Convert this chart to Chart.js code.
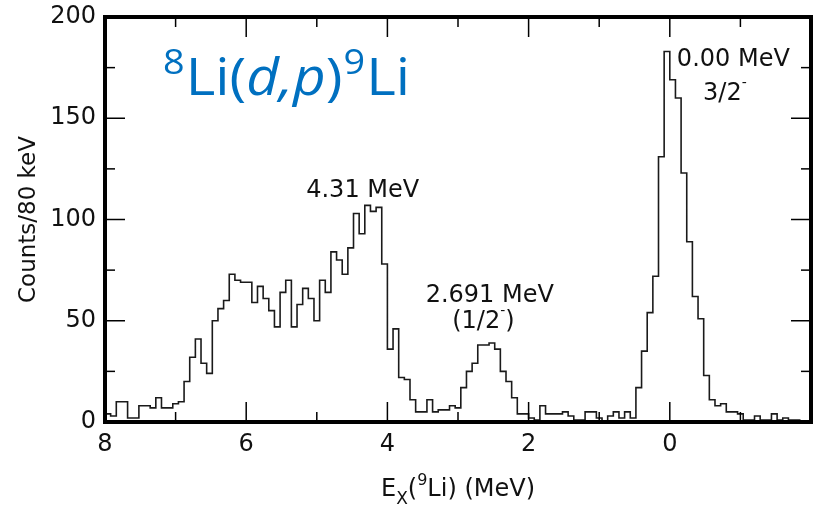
<!DOCTYPE html>
<html>
<head>
<meta charset="utf-8">
<script src="https://cdn.jsdelivr.net/npm/chart.js@4/dist/chart.umd.min.js"></script>
<style>
  html, body { margin: 0; padding: 0; background: #fff; }
  canvas { display: block; }
</style>
</head>
<body>
<canvas id="spectrum" width="821" height="505"></canvas>
<script>
// 9Li excitation spectrum, counts per 80 keV bin (bins run from 8 MeV down to -2 MeV)
const firstEdgeMeV = 8;
const binWidthMeV = 0.08;
const counts = [
    4, 3, 10, 10, 2, 2, 8, 8, 7, 12,
    7, 7, 9, 10, 20, 32, 41, 29, 24, 50,
    56, 60, 73, 70, 69, 69, 59, 67, 61, 55,
    47, 64, 70, 47, 58, 66, 61, 50, 70, 64,
    84, 80, 73, 86, 103, 93, 107, 104, 106, 78,
    36, 46, 22, 21, 11, 5, 5, 11, 5, 6,
    6, 8, 7, 17, 25, 29, 38, 38, 39, 36,
    25, 20, 12, 4, 4, 2, 1, 8, 4, 4,
    4, 5, 3, 1, 1, 5, 5, 2, 0, 3,
    5, 2, 5, 2, 17, 35, 54, 72, 131, 183,
    169, 160, 123, 89, 62, 51, 23, 11, 8, 9,
    5, 5, 4, 1, 1, 3, 1, 1, 4, 1,
    2, 1, 1, 0, 0
];

const xMajorTicks = [8, 6, 4, 2, 0];
const xMinorTicks = [7, 5, 3, 1, -1];
const yMajorTicks = [0, 50, 100, 150, 200];
const yMinorTicks = [25, 75, 125, 175];

// peak labels: [text, superscript, x (MeV), y (counts)]
const peakLabels = [
    ['0.00 MeV', '', -0.9, 176],
    ['3/2', '-', -0.78, 159],
    ['4.31 MeV', '', 4.35, 111],
    ['2.691 MeV', '', 2.55, 59.5],
    ['(1/2', '-)', 2.64, 46.5]
];

// bin centres, plus the two outer edges so the first and last bins are full width
const points = [{ x: firstEdgeMeV, y: counts[0] }];
counts.forEach((c, i) => {
    points.push({ x: firstEdgeMeV - binWidthMeV * (i + 0.5), y: c });
});
points.push({ x: firstEdgeMeV - binWidthMeV * counts.length, y: counts[counts.length - 1] });

const sans = '"DejaVu Sans", "Liberation Sans", sans-serif';

function drawRuns(ctx, runs, x, y) {
    runs.forEach(r => {
        ctx.font = r.font;
        ctx.fillText(r.t, x, y + (r.dy || 0));
        x += ctx.measureText(r.t).width + (r.gap || 0);
    });
}

function runsWidth(ctx, runs) {
    let w = 0;
    runs.forEach(r => { ctx.font = r.font; w += ctx.measureText(r.t).width + (r.gap || 0); });
    return w;
}

const frameAndText = {
    id: 'frameAndText',
    afterDatasetsDraw(chart) {
        const { ctx, chartArea: a, scales: { x, y } } = chart;
        ctx.save();
        ctx.strokeStyle = '#000';
        ctx.lineWidth = 1.5;
        const tick = (x1, y1, x2, y2) => { ctx.beginPath(); ctx.moveTo(x1, y1); ctx.lineTo(x2, y2); ctx.stroke(); };

        // inward ticks on all four sides
        xMajorTicks.forEach(v => {
            const px = x.getPixelForValue(v);
            tick(px, a.bottom, px, a.bottom - 20);
            tick(px, a.top, px, a.top + 20);
        });
        xMinorTicks.forEach(v => {
            const px = x.getPixelForValue(v);
            tick(px, a.bottom, px, a.bottom - 10);
            tick(px, a.top, px, a.top + 10);
        });
        yMajorTicks.forEach(v => {
            const py = y.getPixelForValue(v);
            tick(a.left, py, a.left + 20, py);
            tick(a.right, py, a.right - 20, py);
        });
        yMinorTicks.forEach(v => {
            const py = y.getPixelForValue(v);
            tick(a.left, py, a.left + 10, py);
            tick(a.right, py, a.right - 10, py);
        });

        // heavy frame
        ctx.lineWidth = 4;
        ctx.strokeRect(a.left, a.top, a.right - a.left, a.bottom - a.top);

        // peak labels
        ctx.fillStyle = '#111';
        ctx.textBaseline = 'alphabetic';
        ctx.textAlign = 'left';
        peakLabels.forEach(([t, sup, ex, cy]) => {
            const runs = [{ t: t, font: '24px ' + sans }];
            if (sup) {
                runs.push({ t: sup.charAt(0), font: '14px ' + sans, dy: -13 });
                if (sup.length > 1) runs.push({ t: sup.slice(1), font: '24px ' + sans });
            }
            const w = runsWidth(ctx, runs);
            drawRuns(ctx, runs, x.getPixelForValue(ex) - w / 2, y.getPixelForValue(cy));
        });

        // reaction title, a little wider than the font's natural width
        ctx.save();
        ctx.fillStyle = '#0070c0';
        ctx.translate(163, 95);
        ctx.scale(1.11, 1);
        const tf = '"Open Sans", "Noto Sans", sans-serif';
        drawRuns(ctx, [
            { t: '8', font: '34px ' + tf, dy: -21, gap: 1 },
            { t: 'Li', font: '51px ' + tf },
            { t: '(', font: '51px ' + tf },
            { t: 'd', font: 'italic 51px ' + tf },
            { t: ',', font: 'italic 51px ' + tf },
            { t: 'p', font: 'italic 51px ' + tf },
            { t: ')', font: '51px ' + tf, gap: 1 },
            { t: '9', font: '34px ' + tf, dy: -21, gap: 1 },
            { t: 'Li', font: '51px ' + tf }
        ], 0, 0);
        ctx.restore();

        // x axis title
        ctx.fillStyle = '#111';
        const xt = [
            { t: 'E', font: '24px ' + sans },
            { t: 'X', font: '17px ' + sans, dy: 8 },
            { t: '(', font: '24px ' + sans },
            { t: '9', font: '16px ' + sans, dy: -11 },
            { t: 'Li) (MeV)', font: '24px ' + sans }
        ];
        drawRuns(ctx, xt, (a.left + a.right) / 2 - runsWidth(ctx, xt) / 2, 496);

        // y axis title
        ctx.translate(29, (a.top + a.bottom) / 2);
        ctx.rotate(-Math.PI / 2);
        ctx.font = '23px ' + sans;
        ctx.textAlign = 'center';
        ctx.textBaseline = 'middle';
        ctx.fillText('Counts/80 keV', 0, 0);
        ctx.restore();
    }
};

const ctxSpectrum = document.getElementById('spectrum').getContext('2d');
new Chart(ctxSpectrum, {
    type: 'line',
    data: {
        datasets: [{
            data: points,
            stepped: 'middle',
            borderColor: '#1a1a1a',
            borderWidth: 1.6,
            pointRadius: 0,
            fill: false
        }]
    },
    options: {
        responsive: false,
        animation: false,
        layout: { padding: { left: 0, right: 10, top: 17, bottom: 0 } },
        plugins: {
            legend: { display: false },
            tooltip: { enabled: false }
        },
        scales: {
            x: {
                type: 'linear',
                reverse: true,
                min: -2,
                max: 8,
                grid: { display: false, drawTicks: false },
                border: { display: false },
                ticks: {
                    stepSize: 2,
                    padding: 8,
                    color: '#111',
                    font: { family: sans, size: 24 },
                    callback: v => (v >= 0 ? v : '')
                },
                afterFit: s => { s.height = 83; s.paddingLeft = 0; s.paddingRight = 0; }
            },
            y: {
                min: 0,
                max: 200,
                grid: { display: false, drawTicks: false },
                border: { display: false },
                ticks: {
                    stepSize: 50,
                    padding: 9,
                    color: '#111',
                    font: { family: sans, size: 24 }
                },
                afterFit: s => { s.width = 105; s.paddingTop = 0; s.paddingBottom = 0; }
            }
        }
    },
    plugins: [frameAndText]
});
</script>
</body>
</html>
